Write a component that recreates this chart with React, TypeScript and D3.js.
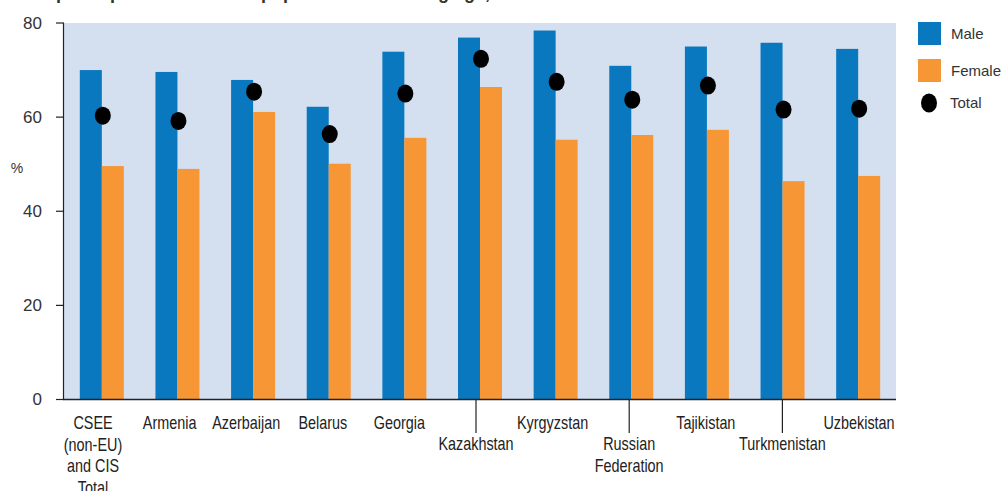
import React from "react";
import * as d3 from "d3";

const categories = [
  "CSEE\n(non-EU)\nand CIS\nTotal",
  "Armenia",
  "Azerbaijan",
  "Belarus",
  "Georgia",
  "Kazakhstan",
  "Kyrgyzstan",
  "Russian\nFederation",
  "Tajikistan",
  "Turkmenistan",
  "Uzbekistan",
];
const male = [70.0, 69.6, 67.9, 62.2, 73.9, 76.9, 78.4, 70.9, 75.0, 75.8, 74.5];
const female = [49.6, 49.0, 61.1, 50.1, 55.6, 66.4, 55.2, 56.2, 57.3, 46.4, 47.5];
const total = [60.3, 59.2, 65.4, 56.4, 65.0, 72.4, 67.5, 63.7, 66.7, 61.6, 61.8];
const yTicks = [0, 20, 40, 60, 80];
const staggered = new Set(["Kazakhstan", "Russian\nFederation", "Turkmenistan"]);
const seriesNames = ["Male", "Female"];

const W = 1003;
const H = 491;
const plot = { left: 64, right: 896, top: 23, bottom: 399.5 };
const BLUE = "#0A78BE";
const ORANGE = "#F79635";
const BG = "#D4DFF0";
const condensed = "'Liberation Sans', Arial, sans-serif";

export default function App() {
  const x = d3.scaleBand<string>().domain(categories).range([plot.left, plot.right]).padding(0);
  const step = x.step();
  const x1 = d3
    .scaleBand<string>()
    .domain(seriesNames)
    .range([step / 2 - 22, step / 2 + 22])
    .padding(0);
  const xLabel = d3.scalePoint<string>().domain(categories).range([93, 859]);
  const y = d3.scaleLinear().domain([0, 80]).range([plot.bottom, plot.top]);

  return (
    <svg
      width={W}
      height={H}
      style={{ position: "absolute", left: 0, top: 0, display: "block" }}
      fontFamily="'Liberation Sans', Arial, sans-serif"
    >
      <text x={545} y={-1} textAnchor="end" fontWeight="bold" fontSize={18} fill="#333">
        Labour force participation rate of the population of working age, 15–64
      </text>
      <rect
        x={plot.left}
        y={plot.top}
        width={plot.right - plot.left}
        height={plot.bottom - plot.top}
        fill={BG}
      />
      {categories.map((c, i) => (
        <g key={c} transform={`translate(${x(c)},0)`}>
          <rect
            x={x1("Male")}
            y={y(male[i])}
            width={x1.bandwidth()}
            height={y(0) - y(male[i])}
            fill={BLUE}
          />
          <rect
            x={x1("Female")}
            y={y(female[i])}
            width={x1.bandwidth()}
            height={y(0) - y(female[i])}
            fill={ORANGE}
          />
          <ellipse cx={step / 2 + 1} cy={y(total[i])} rx={8} ry={9} fill="#000" />
        </g>
      ))}
      {/* y axis */}
      <line x1={plot.left - 0.5} x2={plot.left - 0.5} y1={plot.top} y2={plot.bottom} stroke="#222" strokeWidth={1.2} />
      {yTicks.map((t) => (
        <g key={t} transform={`translate(0,${y(t)})`}>
          <line x1={56} x2={plot.left} stroke="#222" strokeWidth={1.2} />
          <text x={42} dy="0.35em" textAnchor="end" fontSize={17} fill="#333">
            {t}
          </text>
        </g>
      ))}
      <text x={17} y={168} dy="0.35em" textAnchor="middle" fontSize={14} fill="#333">
        %
      </text>
      {/* x axis */}
      <line x1={plot.left - 1} x2={plot.right} y1={plot.bottom} y2={plot.bottom} stroke="#222" strokeWidth={1.5} />
      {categories.map((c) => {
        const lx = xLabel(c) as number;
        const off = staggered.has(c);
        const lines = c.split("\n");
        const base = off ? 450 : 429;
        return (
          <g key={c}>
            {off && <line x1={lx} x2={lx} y1={plot.bottom} y2={433} stroke="#222" strokeWidth={1.2} />}
            {lines.map((ln, k) => (
              <text
                key={k}
                transform={`translate(${lx},${base + k * 21.5}) scale(0.8,1)`}
                textAnchor="middle"
                fontSize={18}
                fontFamily={condensed}
                fill="#222"
              >
                {ln}
              </text>
            ))}
          </g>
        );
      })}
      {/* legend */}
      <rect x={918} y={22} width={23} height={23} fill={BLUE} />
      <text x={951} y={39} fontSize={15} fill="#333">Male</text>
      <rect x={918} y={59} width={23} height={23} fill={ORANGE} />
      <text x={951} y={76} fontSize={15} fill="#333">Female</text>
      <ellipse cx={929} cy={103} rx={8} ry={9.5} fill="#000" />
      <text x={950} y={108} fontSize={15} fill="#333">Total</text>
    </svg>
  );
}
